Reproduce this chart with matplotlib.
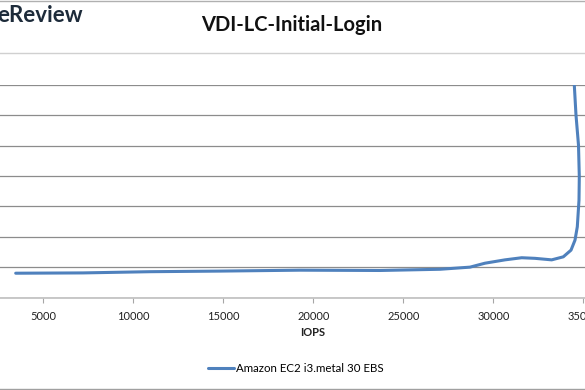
import matplotlib
matplotlib.use('Agg')
import matplotlib.pyplot as plt
from matplotlib.lines import Line2D

# values
iops = [3467, 7206, 10928, 14817, 19261, 23706, 27039, 28706, 29539, 30650,
        31578, 32317, 33244, 33889, 34317, 34539, 34667, 34761, 34778, 34733,
        34594, 34500]
latency = [0.80, 0.81, 0.85, 0.87, 0.90, 0.89, 0.93, 1.00, 1.13, 1.24,
           1.31, 1.29, 1.24, 1.34, 1.56, 1.89, 2.33, 3.21, 3.98, 5.02,
           6.01, 7.00]
x_ticks = list(range(5000, 40000, 5000))
y_ticks = list(range(0, 8))
series_name = 'Amazon EC2 i3.metal 30 EBS'
title = 'VDI-LC-Initial-Login'

plt.rcParams['font.family'] = ['Lato', 'DejaVu Sans']

fig = plt.figure(figsize=(5.85, 3.9), dpi=100)

# plot area is wider than the (cropped) picture
W, H = 585.0, 390.0
px0 = 43.3 - 90.0          # pixel of x = 0
px40 = 43.3 + 7 * 90.0     # pixel of x = 40000
ax = fig.add_axes([px0 / W, (H - 297.5) / H, (px40 - px0) / W, (297.5 - 85.0) / H])

ax.plot(iops, latency, color='#4F81BD', lw=2.2, solid_capstyle='round',
        solid_joinstyle='round', label=series_name)

ax.set_xlim(0, 40000)
ax.set_ylim(0, 7)
ax.set_xticks(x_ticks)
ax.set_xticklabels([str(v) for v in x_ticks], fontsize=8, color='#222222')
ax.set_yticks(y_ticks)
ax.set_yticklabels([])
ax.tick_params(axis='x', direction='out', length=3.5, width=0.8, color='#a6a6a6', pad=6)
ax.tick_params(axis='y', length=0)
ax.set_axisbelow(True)
ax.yaxis.grid(True, color='#8c8c8c', lw=0.9)

for s in ['left', 'right', 'top']:
    ax.spines[s].set_visible(False)
ax.spines['bottom'].set_color('#bfbfbf')
ax.spines['bottom'].set_linewidth(1.2)

fig.text(313 / W, 1 - 333 / H, 'IOPS', ha='center', va='center',
         fontsize=8, fontweight='bold', color='#222222')
fig.text(292 / W, 1 - 25 / H, title, ha='center', va='center',
         fontsize=14.5, fontweight='bold', color='#111111')

# legend below the plot
fig.legend(loc='center', bbox_to_anchor=(296 / W, 1 - 369 / H), frameon=False,
           fontsize=8.3, handlelength=2.2, handletextpad=0.2)

# bit of the site header that is in the screenshot
fig.text(-0.004, 1 - 16 / H, 'eReview', ha='left', va='center',
         fontsize=16, fontweight='bold', color='#1d2b3a')
for yy, c in [(0.5, '#b0b0b0'), (53, '#d0d0d0'), (388.5, '#a0a0a0')]:
    fig.add_artist(Line2D([0, 1], [1 - yy / H, 1 - yy / H], color=c, lw=1.0,
                          transform=fig.transFigure))

fig.savefig('out.png', dpi=100)
